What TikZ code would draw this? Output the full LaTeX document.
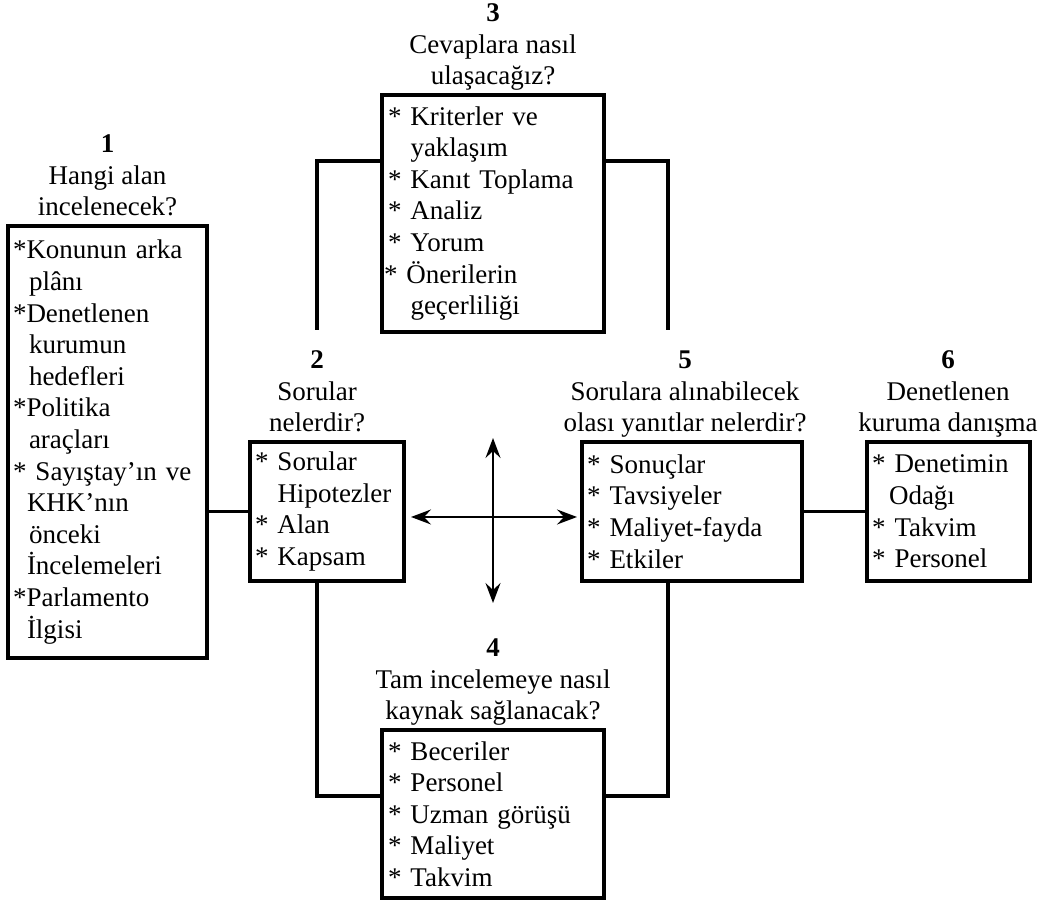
\documentclass[tikz,border=0pt]{standalone}
\usepackage{fontspec}
\setmainfont{Liberation Serif}
\usetikzlibrary{arrows.meta,calc}
\newcommand\bul{{}*}
\begin{document}
\begin{tikzpicture}[x=1pt,y=1pt,
  box/.style={draw,line width=3.2pt,inner xsep=5pt,inner ysep=0pt,align=left,
    font=\fontsize{27}{31.6}\selectfont,anchor=center},
  ttl/.style={align=center,font=\fontsize{27}{31.5}\selectfont,anchor=south,
    inner sep=0pt,text depth=0pt},
  link/.style={line width=3.2pt},
  dbl/.style={line width=2pt,
    {Stealth[length=20pt,width=15pt,inset=7pt]}-{Stealth[length=20pt,width=15pt,inset=7pt]}}
]
\useasboundingbox (0,0) rectangle (1040,901);
\fill[white] (0,0) rectangle (1040,901);

% boxes
\node[box,text width=189pt,minimum height=432pt] (b1) at (107.5,459)
 {\bul Konunun arka\\
  \hspace*{16pt}plânı\\
  \bul Denetlenen\\
  \hspace*{16pt}kurumun\\
  \hspace*{16pt}hedefleri\\
  \bul Politika\\
  \hspace*{16pt}araçları\\
  \bul{} Sayıştay’ın ve\\
  \hspace*{14pt}KHK’nın\\
  \hspace*{16pt}önceki\\
  \hspace*{14pt}İncelemeleri\\
  \bul Parlamento\\
  \hspace*{14pt}İlgisi};

\node[box,text width=210pt,inner xsep=6pt,minimum height=237pt] (b3) at (493,687.5)
 {\bul{} Kriterler ve\\
  \hphantom{* }yaklaşım\\
  \bul{} Kanıt Toplama\\
  \bul{} Analiz\\
  \bul{} Yorum\\
  \hspace*{-4pt}\bul{} Önerilerin\\
  \hphantom{* }geçerliliği};

\node[box,text width=144pt,minimum height=139pt] (b2) at (327,389.5)
 {\bul{} Sorular\\
  \hphantom{* }Hipotezler\\
  \bul{} Alan\\
  \bul{} Kapsam};

\node[box,text width=210pt,minimum height=139pt] (b5) at (692,389.5)
 {\bul{} Sonuçlar\\
  \bul{} Tavsiyeler\\
  \bul{} Maliyet-fayda\\
  \bul{} Etkiler};

\node[box,text width=153pt,minimum height=139pt] (b6) at (948.5,389.5)
 {\bul{} Denetimin\\
  \hspace*{17pt}Odağı\\
  \bul{} Takvim\\
  \bul{} Personel};

\node[box,text width=210pt,inner xsep=6pt,minimum height=168pt] (b4) at (493,87)
 {\bul{} Beceriler\\
  \bul{} Personel\\
  \bul{} Uzman görüşü\\
  \bul{} Maliyet\\
  \bul{} Takvim};

% titles
\node[ttl] (t1) at (107.5,685) {\textbf{1}\\Hangi alan\\incelenecek?};
\node[ttl] (t2) at (317,469) {\textbf{2}\\Sorular\\nelerdir?};
\node[ttl] (t3) at (493,816) {\textbf{3}\\Cevaplara nasıl\\ulaşacağız?};
\node[ttl] (t4) at (493,181) {\textbf{4}\\Tam incelemeye nasıl\\kaynak sağlanacak?};
\node[ttl] (t5) at (685,469) {\textbf{5}\\Sorulara alınabilecek\\olası yanıtlar nelerdir?};
\node[ttl] (t6) at (948,469) {\textbf{6}\\Denetlenen\\kuruma danışma};

% bracket coordinates
\coordinate (tl) at (317,740);
\coordinate (tr) at (668,740);
\coordinate (tlb) at (317,571);
\coordinate (trb) at (668,571);
\coordinate (bl) at (317,105);
\coordinate (br) at (668,105);

\draw[link] (tlb) -- (tl) -- (tl -| b3.west);
\draw[link] (trb) -- (tr) -- (tr -| b3.east);
\draw[link] (b2.south -| bl) -- (bl) -- (bl -| b4.west);
\draw[link] (b5.south -| br) -- (br) -- (br -| b4.east);

\draw[link] (b1.east |- b2.west) -- (b2.west);
\draw[link] (b5.east) -- (b6.west);

% cross arrows
\coordinate (al) at (411,384);
\coordinate (ar) at (577,384);
\coordinate (au) at (493,463);
\coordinate (ad) at (493,298);
\draw[dbl] (al) -- (ar);
\draw[dbl] (au) -- (ad);
\end{tikzpicture}
\end{document}
